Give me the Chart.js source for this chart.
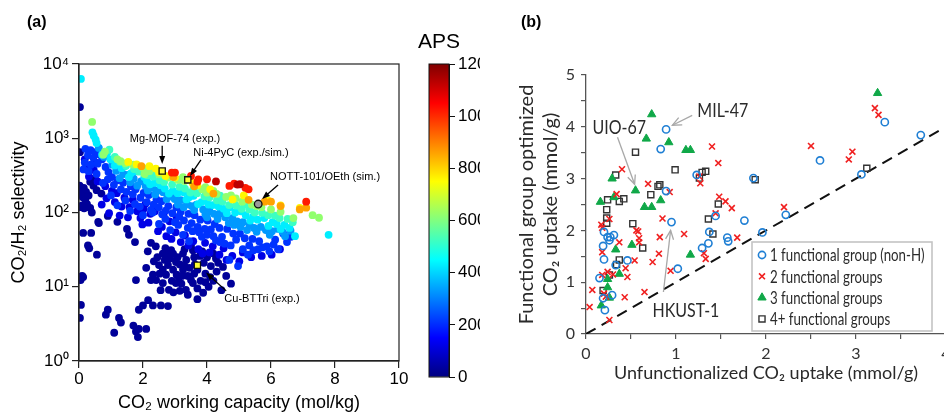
<!DOCTYPE html>
<html>
<head>
<meta charset="utf-8">
<script src="https://cdn.jsdelivr.net/npm/chart.js@4.4.0/dist/chart.umd.min.js"></script>
<style>
  html, body { margin: 0; padding: 0; background: #fff; }
  #page { position: relative; width: 944px; height: 414px; overflow: hidden; }
  canvas { position: absolute; top: 0; }
  #chartA { left: 0; }
  #chartBar { left: 410px; }
  #chartB { left: 480px; }
</style>
</head>
<body>
<div id="page">
  <canvas id="chartA" width="410" height="414"></canvas>
  <canvas id="chartBar" width="70" height="414"></canvas>
  <canvas id="chartB" width="480" height="414"></canvas>
</div>
<script>
// ---------- panel (a): CO2 working capacity (mol/kg) vs CO2/H2 selectivity, coloured by APS ----------
const apsLevels = [30, 120, 210, 330, 430, 520, 620, 760, 860, 1020, 1130];

const aps30 = [
  [0.03,2630],[0.03,650],[0.02,230],[0.08,205],[0.15,215],[0.22,190],[0.05,175],[0.12,160],[0.2,150],[0.3,170],
  [0.1,125],[0.25,130],[0.35,115],[0.06,118],[0.16,114],[0.4,100],[0.62,72],[0.13,53],[0.38,53],[0.28,36],
  [0.32,33],[0.56,27],[0.6,75],[0.13,13.5],[0.05,12.3],[0.1,14],[0.06,5.7],[0.03,3.8],[0.45,230],[0.55,200],
  [0.7,180],[0.35,260],[0.5,290],[0.9,4.9],[0.84,4.2],[1.25,3.8],[1.31,3.3],[1.1,2.4],[1.7,3.0],[1.78,2.5],
  [1.87,2.7],[2.1,2.7],[1.84,2.1],[1.87,4.9],[2.0,5.6],[2.16,6.6],[2.31,5.6],[2.56,5.6],[2.78,5.5],[1.78,12.3],
  [2.34,22],[2.31,14.5],[2.41,12.3],[2.62,11.2],[2.72,14.5],[2.81,9.1],[3.03,11.2],[3.12,13.2],[2.94,17],[3.25,17],
  [3.34,9.1],[3.5,12.3],[3.03,21.5],[2.78,19.6],[2.62,17],[2.5,19.6],[2.94,28],[3.25,28],[3.56,31],[2.62,28],
  [2.25,12.3],[3.88,8.3],[3.56,11.2],[4.1,13.5],[4.3,16],[4.5,18.5],[3.7,9.5],[3.8,12],[3.95,15],[3.6,15],
  [3.4,14],[3.2,11],[3.15,20],[3.35,23],[3.45,18],[3.7,17],[3.9,21],[4.05,10],[4.2,12],[4.35,21],
  [4.0,25],[3.6,25],[3.3,32],[2.85,24],[2.7,33],[2.45,25],[2.4,35],[2.15,30],[2.1,18],[2.55,9],
  [2.95,8.4],[3.15,8.8],[3.4,7.8],[3.7,6.8],[4.6,14],[4.75,11],[4.45,9],[3.05,14.5],[2.9,12],[3.3,19],
  [2.75,27],[3.5,36],[3.85,30],[4.2,28],[1.75,40],[1.5,60],[1.56,50],[1.2,75],[0.9,90],[2.25,39],
  [2.52,15],[2.68,23],[2.88,31],[3.08,25],[3.22,14],[3.62,20],[3.78,26],[4.12,19],[4.28,24],[3.95,11.5]
];
const aps120 = [
  [0.94,98],[1.27,91],[1.53,86],[2.02,112],[2.37,104],[2.64,94],[2.83,76],[3.05,86],[2.17,73],[1.98,69],
  [0.31,305],[0.58,262],[0.82,226],[1.03,196],[1.18,182],[1.42,158],[1.68,148],[0.71,128],[1.12,138],[1.82,104],
  [2.23,96],[2.59,64],[3.02,54],[3.31,49],[3.57,41],[3.94,39],[4.18,35],[4.52,33],[4.79,26],[5.12,29],
  [5.38,25],[5.71,26],[6.02,27],[6.28,32],[3.42,36],[4.08,29],[4.61,23],[5.01,22],[3.73,32],[2.89,44],
  [0.25,420],[0.46,375],[0.18,520],[0.52,468],[1.33,120],[1.92,84],[2.47,56],[2.73,48],[3.18,40],[3.86,28],
  [4.39,27],[0.86,155],[1.58,118],[2.08,132]
];
const aps210 = [
  [0.2,720],[0.36,690],[0.51,650],[0.63,610],[0.28,590],[0.45,545],[0.72,520],[0.18,470],[0.37,440],[0.58,455],
  [0.83,410],[0.92,350],[1.03,300],[1.21,272],[1.38,252],[1.62,226],[1.77,205],[2.02,184],[2.18,172],[2.42,150],
  [2.58,142],[2.79,122],[3.04,118],[3.18,102],[3.42,96],[3.61,92],[3.79,80],[4.02,78],[4.24,70],[4.39,62],
  [4.63,60],[4.82,52],[5.03,52],[5.18,45],[5.42,44],[5.63,41],[5.87,35],[6.13,43],[6.5,40],[6.22,32],
  [5.28,27],[4.97,19],[4.7,23],[5.6,32],[1.31,205],[1.68,176],[2.12,138],[2.49,118],[2.92,98],[3.28,78],
  [3.71,64],[4.12,59],[4.47,47],[4.91,43],[5.32,36],[5.74,34],[6.08,37],[3.44,41],[3.84,47],[4.28,42],
  [4.74,36],[5.12,32],[0.14,380],[1.09,236],[1.48,190],[1.92,158],[2.33,128],[2.71,106],[3.13,88],[3.52,72],
  [3.93,60],[6.38,52],[6.62,47],[1.0,170],[1.45,145],[1.9,120],[2.3,100],[2.7,82],[3.1,68],[3.55,56],
  [4.0,50],[4.4,40],[0.75,250],[0.55,330],[1.2,125],[1.6,105],[2.0,92],[2.5,70],[2.85,58],[3.25,50],
  [0.3,360],[0.9,280],[1.75,130],[2.25,108],[2.6,95],[3.0,74],[3.4,62],[3.75,54],[4.2,48],[4.55,38],
  [5.45,31],[5.95,30]
];
const aps330 = [
  [0.62,740],[0.78,560],[1.04,440],[1.16,365],[1.38,330],[1.52,320],[1.71,285],[1.94,262],[2.08,228],[2.29,215],
  [2.46,198],[2.63,188],[2.86,165],[2.99,152],[3.18,147],[3.38,130],[3.52,122],[3.67,128],[3.88,110],[4.08,104],
  [4.22,96],[4.41,98],[4.57,86],[4.79,84],[4.94,76],[5.12,74],[5.33,68],[5.47,62],[5.68,64],[5.84,58],
  [6.03,56],[6.22,60],[6.36,55],[6.61,57],[1.27,290],[1.82,230],[2.38,175],[2.74,152],[3.09,128],[3.6,108],
  [3.95,94],[4.33,82],[4.68,72],[5.05,64],[5.55,55],[5.96,50],[6.44,48],[2.15,198],[1.6,255],[3.27,118],
  [4.0,86],[4.85,68],[5.25,58]
];
const aps430 = [
  [0.06,6300],[0.42,1200],[0.46,1080],[0.52,960],[0.55,860],[0.88,640],[0.72,600],[0.98,520],[1.18,470],[1.33,395],
  [1.42,420],[1.63,340],[1.77,360],[2.04,300],[2.12,268],[2.37,250],[2.55,232],[2.68,210],[2.93,196],[3.08,182],
  [3.27,188],[3.44,160],[3.58,168],[3.83,138],[3.97,146],[4.18,126],[4.36,120],[4.52,112],[4.71,118],[4.88,100],
  [5.06,104],[5.21,92],[5.44,88],[5.58,80],[5.79,84],[6.05,74],[6.18,70],[6.42,68],[6.58,62],[6.75,48],
  [7.8,50],[1.12,430],[1.56,300],[2.22,240],[2.81,180],[3.36,150],[3.72,130],[4.05,128],[4.62,98],[5.35,78],
  [5.92,66],[6.3,60]
];
const aps520 = [
  [0.95,700],[1.12,560],[1.28,480],[1.47,425],[1.72,385],[1.88,355],[2.13,318],[2.31,305],[2.52,272],[2.66,258],
  [2.91,238],[3.14,222],[3.31,210],[3.48,186],[3.69,182],[3.92,165],[4.08,160],[4.31,146],[4.48,141],[4.69,126],
  [4.91,124],[5.08,112],[5.32,110],[5.49,100],[5.72,99],[5.91,92],[6.12,91],[6.27,84],[6.52,82],[6.68,74],
  [2.42,335],[3.58,212],[4.41,168],[5.18,128]
];
const aps620 = [
  [0.41,1660],[0.81,660],[0.76,600],[1.3,490],[1.2,520],[1.45,460],[1.7,440],[2.0,400],[2.2,360],[2.5,330],
  [2.8,295],[3.1,275],[3.3,265],[3.6,235],[3.85,205],[4.0,185],[4.3,178],[4.6,162],[4.9,155],[5.1,140],
  [5.4,128],[5.55,122],[5.7,118],[6.0,110],[6.3,102],[6.7,84],[7.3,92],[7.5,85],[2.05,330],[3.25,300],
  [4.2,195],[4.75,170],[3.95,220]
];
const aps760 = [
  [1.54,480],[1.8,445],[2.2,420],[2.4,390],[2.5,350],[3.0,295],[3.55,250],[3.7,232],[4.1,205],[4.8,150],
  [5.15,170],[5.9,145],[6.3,125],[6.9,115],[2.7,310]
];
const aps860 = [
  [1.95,420],[2.95,300],[3.6,225],[5.8,140],[6.0,140],[6.3,122],[7.1,116],[6.9,110],[4.2,180],[5.3,148]
];
const aps1020 = [
  [2.9,345],[3.0,345],[3.5,310],[3.73,280],[4.0,280],[4.7,228],[4.85,245],[5.2,215],[5.3,205],[7.1,140],[3.7,260]
];
const aps1130 = [[4.28,262],[5.03,240],[4.95,238]];
const apsGroups = [aps30, aps120, aps210, aps330, aps430, aps520, aps620, aps760, aps860, aps1020, aps1130];

const specialNames = ['Mg-MOF-74 (exp.)', 'Ni-4PyC (exp./sim.)', 'NOTT-101/OEth (sim.)', 'Cu-BTTri (exp.)'];
const specialX = [2.6, 3.4, 5.6, 3.7];
const specialY = [363, 275, 130, 19.5];

const capTicks = [0, 2, 4, 6, 8, 10];
const selTicks = [1, 10, 100, 1000, 10000];
const selTickLabels = ['10⁰', '10¹', '10²', '10³', '10⁴'];
const apsMin = 0, apsMax = 1200;

// ---------- panel (b): unfunctionalized vs functional-group optimized CO2 uptake (mmol/g) ----------
const seriesNames = ['1 functional group (non-H)', '2 functional groups', '3 functional groups', '4+ functional groups'];
const oneGroup = [
  [0.89,3.95],[0.83,3.57],[3.32,4.09],[3.72,3.84],[2.60,3.35],[3.06,3.08],[1.86,3.01],[1.23,3.07],[0.89,2.76],[0.95,2.16],
  [2.22,2.30],[1.76,2.19],[1.96,1.96],[1.44,2.28],[1.37,1.97],[1.57,1.86],[1.58,1.79],[1.36,1.75],[1.29,1.66],[1.02,1.26],
  [0.20,1.97],[0.24,1.87],[0.27,1.87],[0.31,1.91],[0.26,1.81],[0.19,1.70],[0.20,1.44],[0.15,1.08],[0.19,0.69],[0.21,0.46],
  [0.29,0.75],[0.33,1.33],[0.46,1.42]
];
const twoGroups = [
  [3.21,4.36],[3.25,4.23],[2.50,3.63],[2.92,3.37],[2.96,3.52],[2.20,2.45],[1.40,3.62],[1.47,3.30],[1.48,2.65],[1.55,2.56],
  [1.62,2.43],[1.68,1.86],[1.44,2.33],[1.27,2.91],[1.26,3.04],[0.93,2.74],[0.69,2.90],[0.40,3.18],[0.34,2.70],[0.26,2.22],
  [0.17,2.11],[0.18,2.05],[0.85,2.23],[0.82,1.87],[0.81,1.55],[0.74,1.39],[0.56,2.00],[0.58,1.98],[0.59,1.85],[0.59,1.77],
  [0.54,1.42],[0.44,1.27],[0.46,1.10],[0.37,1.77],[0.65,0.81],[0.43,0.71],[1.09,1.93],[0.94,1.22],[1.31,1.56],[1.33,1.45],
  [0.07,0.85],[0.04,0.52],[0.26,0.27],[0.18,1.14],[0.24,1.20],[0.18,1.58],[0.30,1.15],[0.20,0.78],[0.22,0.72]
];
const threeGroups = [
  [3.24,4.65],[0.73,4.24],[0.67,3.77],[0.92,3.70],[1.11,3.55],[1.16,3.55],[0.29,3.00],[0.55,2.77],[0.16,2.55],[0.31,2.64],
  [0.65,2.45],[0.73,2.45],[0.83,2.58],[0.51,1.72],[0.33,1.63],[1.16,1.53],[0.37,1.16],[0.24,1.06],[0.17,0.55],[0.24,0.90],
  [0.26,0.70]
];
const fourGroups = [
  [0.55,3.51],[0.33,3.07],[0.99,3.17],[1.29,3.12],[1.33,3.14],[1.26,3.01],[0.82,2.88],[0.80,2.85],[0.72,2.69],[0.24,2.59],
  [0.37,2.56],[0.42,2.61],[0.23,2.40],[0.23,2.24],[0.23,2.14],[0.52,2.13],[1.47,2.51],[1.36,2.22],[1.41,1.93],[0.63,1.66],
  [0.37,1.43],[0.34,1.34],[0.26,1.14],[0.19,0.84],[1.88,2.98],[3.12,3.20]
];
const parityLine = [0, 4];

// ---------- helpers ----------
function jet(t) {
  const c = v => Math.round(255 * Math.max(0, Math.min(1, v)));
  return 'rgb(' + c(1.5 - Math.abs(4 * t - 3)) + ',' + c(1.5 - Math.abs(4 * t - 2)) + ',' + c(1.5 - Math.abs(4 * t - 1)) + ')';
}
const toXY = arr => arr.map(p => ({x: p[0], y: p[1]}));

function drawArrow(ctx, x1, y1, x2, y2, len, wid, filled) {
  const a = Math.atan2(y2 - y1, x2 - x1);
  ctx.beginPath();
  ctx.moveTo(x1, y1);
  ctx.lineTo(filled ? x2 - Math.cos(a) * len * 0.8 : x2, filled ? y2 - Math.sin(a) * len * 0.8 : y2);
  ctx.stroke();
  const lx = x2 - Math.cos(a) * len, ly = y2 - Math.sin(a) * len;
  const px = -Math.sin(a) * wid / 2, py = Math.cos(a) * wid / 2;
  ctx.beginPath();
  ctx.moveTo(lx + px, ly + py);
  ctx.lineTo(x2, y2);
  ctx.lineTo(lx - px, ly - py);
  if (filled) { ctx.closePath(); ctx.fill(); } else { ctx.stroke(); }
}

// the right panel used a narrow font, squeeze Lato a little
function narrowText(ctx, text, x, y, sx) {
  ctx.save();
  ctx.translate(x, y);
  ctx.scale(sx, 1);
  ctx.fillText(text, 0, 0);
  ctx.restore();
}

const FA = "'Liberation Sans', Arial, sans-serif";
const FB = "Lato, 'Liberation Sans', sans-serif";

// ---------- chart (a) ----------
const leftNotes = [
  {i: 0, tx: 3.0, ty: 980, x1: 2.6, y1: 790, x2: 2.6, y2: 450},
  {i: 1, tx: 5.06, ty: 630, x1: 3.81, y1: 510, x2: 3.47, y2: 310},
  {i: 2, tx: 7.69, ty: 300, x1: 6.22, y1: 235, x2: 5.72, y2: 152},
  {i: 3, tx: 5.72, ty: 6.8, x1: 4.6, y1: 8.8, x2: 3.97, y2: 15.5}
];

const leftDatasets = [{
  data: specialX.map((x, i) => ({x: x, y: specialY[i]})),
  pointStyle: ['rect', 'rect', 'circle', 'rect'],
  pointRadius: [4.4, 4.4, 3.8, 4.4],
  backgroundColor: ['#ffff33', '#ffff33', '#9a9a9a', '#ffff33'],
  borderColor: '#111',
  borderWidth: 1.3
}];
for (let g = apsGroups.length - 1; g >= 0; g--) {
  leftDatasets.push({
    data: toXY(apsGroups[g]),
    pointStyle: 'circle',
    pointRadius: 3.9,
    borderWidth: 0,
    backgroundColor: jet(apsLevels[g] / apsMax)
  });
}

const leftDecor = {
  id: 'leftDecor',
  afterDatasetsDraw(chart) {
    const {ctx, chartArea: ca, scales: {x, y}} = chart;
    ctx.save();
    ctx.strokeStyle = '#222';
    ctx.lineWidth = 1.2;
    ctx.strokeRect(ca.left, ca.top, ca.right - ca.left, ca.bottom - ca.top);
    ctx.fillStyle = '#000';
    ctx.strokeStyle = '#000';
    ctx.lineWidth = 1.3;
    ctx.font = '11px ' + FA;
    ctx.textAlign = 'center';
    ctx.textBaseline = 'middle';
    leftNotes.forEach(n => {
      ctx.fillText(specialNames[n.i], x.getPixelForValue(n.tx), y.getPixelForValue(n.ty));
      drawArrow(ctx, x.getPixelForValue(n.x1), y.getPixelForValue(n.y1),
        x.getPixelForValue(n.x2), y.getPixelForValue(n.y2), 8, 6, true);
    });
    ctx.font = 'bold 16px ' + FA;
    ctx.textAlign = 'left';
    ctx.fillText('(a)', 27, 23);
    ctx.restore();
  }
};

new Chart(document.getElementById('chartA'), {
  type: 'scatter',
  data: {datasets: leftDatasets},
  options: {
    responsive: false,
    animation: false,
    layout: {padding: {top: 64, right: 11, left: 0, bottom: 0}},
    plugins: {legend: {display: false}, tooltip: {enabled: false}},
    scales: {
      x: {
        type: 'linear', min: 0, max: 10,
        afterBuildTicks: s => { s.ticks = capTicks.map(v => ({value: v})); },
        afterFit: s => { s.height = 53; },
        ticks: {color: '#000', font: {family: FA, size: 17}, padding: 1},
        grid: {drawOnChartArea: false, tickLength: 7, color: '#222', lineWidth: 1.2},
        border: {color: '#222', width: 1.2},
        title: {display: true, text: 'CO₂ working capacity (mol/kg)', color: '#000',
          font: {family: FA, size: 18}, padding: {top: 0, bottom: 0}}
      },
      y: {
        type: 'logarithmic', min: 1, max: 10000,
        afterBuildTicks: s => { s.ticks = selTicks.map(v => ({value: v})); },
        afterFit: s => { s.width = 79; },
        ticks: {color: '#000', font: {family: FA, size: 17}, padding: 3,
          callback: v => selTickLabels[selTicks.indexOf(v)]},
        grid: {drawOnChartArea: false, tickLength: 7, color: '#222', lineWidth: 1.2},
        border: {color: '#222', width: 1.2},
        title: {display: true, text: 'CO₂/H₂ selectivity', color: '#000',
          font: {family: FA, size: 18}, padding: {top: 8, bottom: 0}}
      }
    }
  },
  plugins: [leftDecor]
});

// ---------- colour bar ----------
const barDecor = {
  id: 'barDecor',
  afterDraw(chart) {
    const {ctx, chartArea: ca} = chart;
    ctx.save();
    ctx.strokeStyle = '#111';
    ctx.lineWidth = 1;
    ctx.strokeRect(ca.left, ca.top, ca.right - ca.left, ca.bottom - ca.top);
    ctx.fillStyle = '#000';
    ctx.font = '21px ' + FA;
    ctx.textAlign = 'center';
    ctx.textBaseline = 'middle';
    ctx.fillText('APS', (ca.left + ca.right) / 2, 42);
    ctx.restore();
  }
};

new Chart(document.getElementById('chartBar'), {
  type: 'bar',
  data: {
    labels: ['APS'],
    datasets: [{
      data: [[apsMin, apsMax]],
      borderWidth: 0,
      barPercentage: 1,
      categoryPercentage: 1,
      backgroundColor: c => {
        const ca = c.chart.chartArea;
        if (!ca) return '#000';
        const g = c.chart.ctx.createLinearGradient(0, ca.bottom, 0, ca.top);
        for (let i = 0; i <= 16; i++) g.addColorStop(i / 16, jet(i / 16));
        return g;
      }
    }]
  },
  options: {
    responsive: false,
    animation: false,
    layout: {padding: {top: 64, bottom: 37, left: 19, right: 0}},
    plugins: {legend: {display: false}, tooltip: {enabled: false}},
    scales: {
      x: {display: false},
      y: {
        position: 'right', min: apsMin, max: apsMax,
        afterFit: s => { s.width = 31; },
        ticks: {stepSize: 200, color: '#000', font: {family: FA, size: 17}, padding: 3, callback: v => String(v)},
        grid: {drawOnChartArea: false, tickLength: 6, color: '#111'},
        border: {color: '#111'}
      }
    }
  },
  plugins: [barDecor]
});

// ---------- chart (b) ----------
const seriesStyles = [
  {pointStyle: 'circle', pointRadius: 3.6, borderColor: '#1f7fd4', backgroundColor: 'rgba(0,0,0,0)', borderWidth: 1.6},
  {pointStyle: 'crossRot', pointRadius: 4.2, borderColor: '#f02020', backgroundColor: '#f02020', borderWidth: 1.6},
  {pointStyle: 'triangle', pointRadius: 4.8, borderColor: '#10a848', backgroundColor: '#10a848', borderWidth: 1},
  {pointStyle: 'rect', pointRadius: 4.3, borderColor: '#333', backgroundColor: 'rgba(0,0,0,0)', borderWidth: 1.4}
];
const seriesData = [oneGroup, twoGroups, threeGroups, fourGroups];

const rightDatasets = seriesData.map((d, i) => Object.assign({label: seriesNames[i], data: toXY(d)}, seriesStyles[i]));
rightDatasets.push({
  type: 'line',
  label: 'parity',
  data: parityLine.map(v => ({x: v, y: v})),
  borderColor: '#111',
  borderWidth: 2,
  borderDash: [11, 7],
  pointRadius: 0,
  fill: false,
  order: 10
});

const rightNotes = [
  {text: 'MIL-47', tx: 1.52, ty: 4.32, x1: 1.18, y1: 4.22, x2: 0.96, y2: 4.03},
  {text: 'UIO-67', tx: 0.37, ty: 3.99, x1: 0.35, y1: 3.80, x2: 0.54, y2: 2.89},
  {text: 'HKUST-1', tx: 1.11, ty: 0.46, x1: 0.86, y1: 0.81, x2: 0.94, y2: 2.00}
];

const rightDecor = {
  id: 'rightDecor',
  afterDatasetsDraw(chart) {
    const {ctx, scales: {x, y}} = chart;
    ctx.save();
    ctx.strokeStyle = '#a8a8a8';
    ctx.lineWidth = 1.3;
    rightNotes.forEach(n => {
      drawArrow(ctx, x.getPixelForValue(n.x1), y.getPixelForValue(n.y1),
        x.getPixelForValue(n.x2), y.getPixelForValue(n.y2), 9, 8, false);
    });
    ctx.fillStyle = '#2a2a2a';
    ctx.font = '20px ' + FB;
    ctx.textAlign = 'center';
    ctx.textBaseline = 'middle';
    rightNotes.forEach(n => {
      narrowText(ctx, n.text, x.getPixelForValue(n.tx), y.getPixelForValue(n.ty), 0.8);
    });

    // legend box
    const bx = 272, by = 242, bw = 180, bh = 89;
    ctx.fillStyle = '#fff';
    ctx.fillRect(bx, by, bw, bh);
    ctx.strokeStyle = '#c4c4c4';
    ctx.lineWidth = 1.6;
    ctx.strokeRect(bx, by, bw, bh);
    ctx.font = '17px ' + FB;
    ctx.textAlign = 'left';
    seriesNames.forEach((name, i) => {
      const cy = by + 13 + i * 21.3;
      const st = seriesStyles[i];
      ctx.strokeStyle = st.borderColor;
      ctx.fillStyle = st.backgroundColor;
      ctx.lineWidth = st.borderWidth;
      Chart.helpers.drawPoint(ctx, {pointStyle: st.pointStyle, radius: st.pointRadius, rotation: 0, borderWidth: st.borderWidth}, bx + 10, cy);
      ctx.fillStyle = '#2a2a2a';
      narrowText(ctx, name, bx + 18, cy + 1, 0.78);
    });

    ctx.font = 'bold 16px ' + FA;
    ctx.fillStyle = '#000';
    ctx.fillText('(b)', 41, 23);
    ctx.restore();
  }
};

new Chart(document.getElementById('chartB'), {
  type: 'scatter',
  data: {datasets: rightDatasets},
  options: {
    responsive: false,
    animation: false,
    layout: {padding: {top: 75, right: 14, left: 0, bottom: 30}},
    plugins: {legend: {display: false}, tooltip: {enabled: false}},
    scales: {
      x: {
        type: 'linear', min: 0, max: 4,
        afterFit: s => { s.height = 50; },
        ticks: {stepSize: 0.5, autoSkip: false, maxRotation: 0, color: '#333', font: {family: FB, size: 16}, padding: 5,
          callback: v => Number.isInteger(v) ? v : ''},
        grid: {drawOnChartArea: false, tickLength: 5, color: '#555', lineWidth: 1.2},
        border: {color: '#555', width: 1.3},
        title: {display: true, text: 'Unfunctionalized CO₂ uptake (mmol/g)', color: '#2a2a2a',
          font: {family: FB, size: 18}, padding: {top: 0, bottom: 0}}
      },
      y: {
        type: 'linear', min: 0, max: 5,
        afterFit: s => { s.width = 106; },
        ticks: {stepSize: 0.5, autoSkip: false, color: '#333', font: {family: FB, size: 16}, padding: 6,
          callback: v => Number.isInteger(v) ? v : ''},
        grid: {drawOnChartArea: false, tickLength: 5, color: '#555', lineWidth: 1.2},
        border: {color: '#555', width: 1.3},
        title: {display: true, text: ['Functional group optimized', 'CO₂ uptake (mmol/g)'], color: '#2a2a2a',
          font: {family: FB, size: 20}, padding: {top: 35, bottom: 0}}
      }
    }
  },
  plugins: [rightDecor]
});
</script>
</body>
</html>
